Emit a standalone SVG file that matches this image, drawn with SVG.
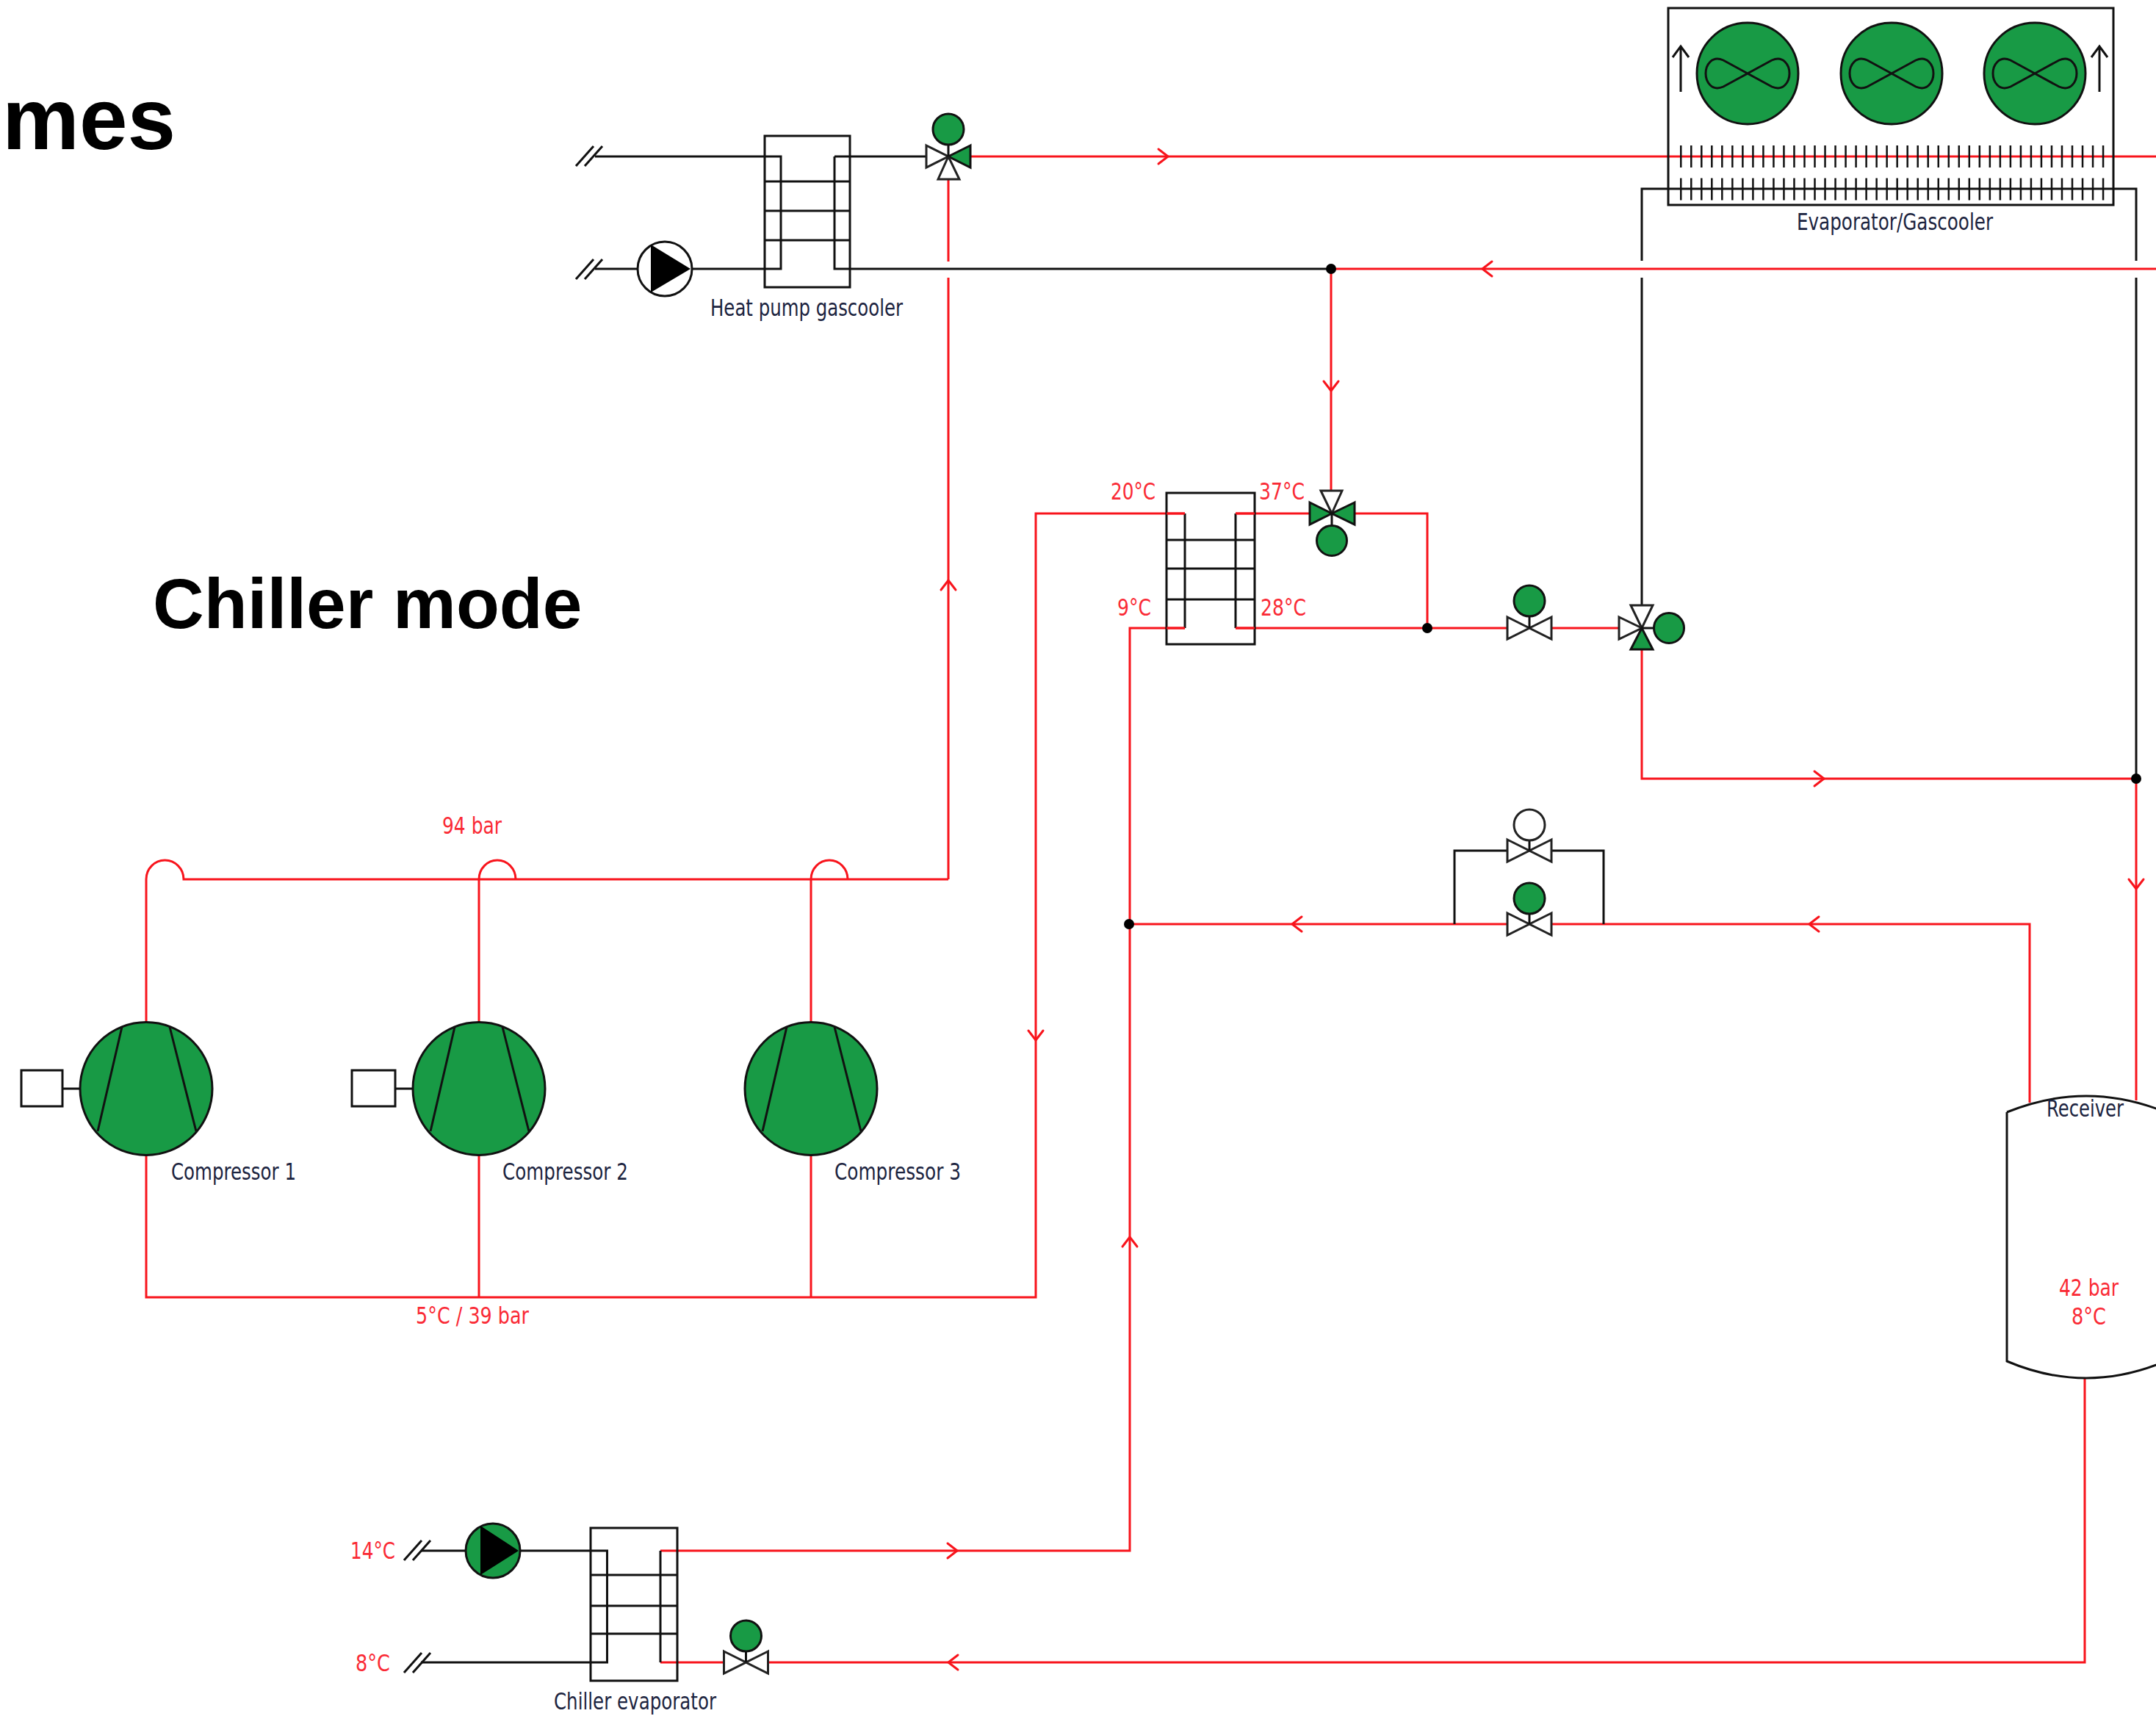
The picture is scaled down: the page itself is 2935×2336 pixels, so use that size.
<svg xmlns="http://www.w3.org/2000/svg" width="2935" height="2336" viewBox="0 0 2935 2336">
<style>
.r{fill:none;stroke:#f8141c;stroke-width:3}
.k{fill:none;stroke:#111;stroke-width:3}
.g{fill:#189a45;stroke:#111;stroke-width:3}
.w{fill:#fff;stroke:#222;stroke-width:3}
.t{font-family:"DejaVu Sans",sans-serif;font-size:32px;fill:#1c2440}
.tr{font-family:"DejaVu Sans",sans-serif;font-size:32px;fill:#fa2a35}
.h{font-family:"Liberation Sans",Arial,sans-serif;font-weight:700;fill:#000}
</style>
<defs>
<path id="chev" class="r" d="M-7,-10 L6,0 L-7,10" stroke-linecap="round" stroke-linejoin="round"/>
<path id="lobe" class="k" d="M0,0 L-33,-18 C-49,-25 -57,-11 -57,0 C-57,11 -49,25 -33,18 Z M0,0 L33,-18 C49,-25 57,-11 57,0 C57,11 49,25 33,18 Z"/>
<path id="slash" class="k" d="M-24,14 L0,-13 M-12,14 L12,-13"/>
<g id="valve2">
<polygon class="w" points="-30,-15 0,0 -30,15"/>
<polygon class="w" points="30,-15 0,0 30,15"/>
<path class="k" d="M0,0 V-17"/>
</g>
<g id="comp">
<ellipse class="g" cx="0" cy="0" rx="90" ry="90.5"/>
<path class="k" d="M-33,-84 L-66,58 M32,-84 L68,58"/>
</g>
</defs>

<g id="connectors">
<path class="r" d="M1321,213 H2935"/>
<path class="r" d="M1812,366 H2935"/>
<path class="r" d="M1812,366 V668"/>
<path class="r" d="M1291,244 V356 M1291,378 V1197"/>
<path class="r" d="M199,1391 V1197 A25.5,26 0 0 1 250,1197 H1291"/>
<path class="r" d="M652,1391 V1197 A25,26 0 0 1 702,1197"/>
<path class="r" d="M1104,1391 V1197 A25,26 0 0 1 1154,1197"/>
<path class="r" d="M199,1572 V1766 H1410 V699 H1613"/>
<path class="r" d="M652,1572 V1766 M1104,1572 V1766"/>
<path class="r" d="M1682,699 H1783 M1844,699 H1943 V855"/>
<path class="r" d="M1613,855 H1538 V2111 H899"/>
<path class="r" d="M1682,855 H2052 M2112,855 H2205"/>
<path class="r" d="M2235,884 V1060 H2908"/>
<path class="r" d="M2908,1060 V1498"/>
<path class="r" d="M2763,1501 V1258 H2112 M2052,1258 H1538"/>
<path class="r" d="M2838,1876 V2263 H1046 M985,2263 H899"/>
<path class="k" d="M810,213 H1063 V366 H942 M868,366 H810"/>
<path class="k" d="M1136,213 H1260 M1136,213 V366 H1812"/>
<path class="k" d="M2235,824 V378 M2235,355 V257 H2908 V355 M2908,378 V1060"/>
<path class="k" d="M1980,1258 V1158 H2052 M2112,1158 H2183 V1258"/>
<path class="k" d="M573,2111 H634 M708,2111 H826.5 V2263 H573"/>
<path class="k" d="M899,2111 V2263"/>
<use href="#chev" transform="translate(1584,213)"/>
<use href="#chev" transform="translate(2024,366) rotate(180)"/>
<use href="#chev" transform="translate(1812,526) rotate(90)"/>
<use href="#chev" transform="translate(1291,796) rotate(-90)"/>
<use href="#chev" transform="translate(1410,1410) rotate(90)"/>
<use href="#chev" transform="translate(1538,1690) rotate(-90)"/>
<use href="#chev" transform="translate(2477,1060)"/>
<use href="#chev" transform="translate(2908,1204) rotate(90)"/>
<use href="#chev" transform="translate(1765,1258) rotate(180)"/>
<use href="#chev" transform="translate(2469,1258) rotate(180)"/>
<use href="#chev" transform="translate(1297,2111)"/>
<use href="#chev" transform="translate(1297,2263) rotate(180)"/>
<circle cx="1812" cy="366" r="7" fill="#000"/>
<circle cx="1943" cy="855" r="7" fill="#000"/>
<circle cx="2908" cy="1060" r="7" fill="#000"/>
<circle cx="1537" cy="1258" r="7" fill="#000"/>
</g>

<g id="evaporator-gascooler">
<rect class="k" x="2271" y="11" width="606" height="268"/>
<ellipse class="g" cx="2379" cy="100" rx="69" ry="69"/><use href="#lobe" transform="translate(2379,100)"/>
<ellipse class="g" cx="2575" cy="100" rx="69" ry="69"/><use href="#lobe" transform="translate(2575,100)"/>
<ellipse class="g" cx="2770" cy="100" rx="69" ry="69"/><use href="#lobe" transform="translate(2770,100)"/>
<path class="k" d="M2288,125 V63 M2277,78 L2288,63 L2299,78 M2858,125 V63 M2847,78 L2858,63 L2869,78"/>
<path d="M2287,213 H2865 M2287,257.5 H2865" fill="none" stroke="#111" stroke-width="30" stroke-dasharray="2.5 11.52"/>
<text class="t" x="2446" y="313" textLength="267" lengthAdjust="spacingAndGlyphs">Evaporator/Gascooler</text>
</g>

<g id="heat-pump-gascooler">
<rect class="k" x="1041" y="185" width="116" height="206"/>
<path class="k" d="M1041,247 H1157 M1041,287 H1157 M1041,327 H1157"/>
<text class="t" x="967" y="430" textLength="262" lengthAdjust="spacingAndGlyphs">Heat pump gascooler</text>
</g>
<g id="hp-feed-top"><use href="#slash" transform="translate(808,212)"/></g>
<g id="hp-feed-bottom"><use href="#slash" transform="translate(808,366)"/></g>
<g id="hp-pump">
<circle cx="905" cy="366" r="37" fill="#fff" stroke="#111" stroke-width="3"/>
<polygon points="886,333 940,366 886,398" fill="#000"/>
</g>
<g id="valve-hp">
<polygon class="w" points="1261,198 1291,213 1261,228"/>
<polygon class="g" points="1321,198 1291,213 1321,228"/>
<polygon class="w" points="1277,244 1291,213 1306,244"/>
<path class="k" d="M1291,213 V196"/>
<circle class="g" cx="1291" cy="176" r="21"/>
</g>

<g id="recuperator">
<rect class="k" x="1588" y="671" width="120" height="206"/>
<path class="k" d="M1588,735 H1708 M1588,774 H1708 M1588,816 H1708"/>
<path class="k" d="M1613,699 V855 M1682,699 V855"/>
<path class="r" d="M1588,699 H1613 M1682,699 H1708 M1588,855 H1613 M1682,855 H1708"/>
<text class="tr" x="1512" y="680" textLength="61" lengthAdjust="spacingAndGlyphs">20°C</text>
<text class="tr" x="1714" y="680" textLength="62" lengthAdjust="spacingAndGlyphs">37°C</text>
<text class="tr" x="1521" y="838" textLength="46" lengthAdjust="spacingAndGlyphs">9°C</text>
<text class="tr" x="1716" y="838" textLength="62" lengthAdjust="spacingAndGlyphs">28°C</text>
</g>
<g id="valve-recuperator">
<polygon class="w" points="1798,668 1813,699 1827,668"/>
<polygon class="g" points="1783,684 1813,699 1783,714"/>
<polygon class="g" points="1844,684 1813,699 1844,714"/>
<path class="k" d="M1813,699 V716"/>
<ellipse class="g" cx="1813" cy="736" rx="20.5" ry="20.5"/>
</g>
<g id="valve-mid"><use href="#valve2" transform="translate(2082,855)"/><circle class="g" cx="2082" cy="818" r="21"/></g>
<g id="valve-evap-gas">
<polygon class="w" points="2220,824 2235,855 2250,824"/>
<polygon class="w" points="2204,840 2235,855 2204,870"/>
<polygon class="g" points="2220,884 2235,855 2250,884"/>
<path class="k" d="M2235,855 H2252"/>
<circle class="g" cx="2272" cy="855" r="20.5"/>
</g>
<g id="valve-bypass-top"><use href="#valve2" transform="translate(2082,1158)"/><circle class="w" cx="2082" cy="1123" r="21"/></g>
<g id="valve-bypass-bottom"><use href="#valve2" transform="translate(2082,1258)"/><circle class="g" cx="2082" cy="1223" r="21"/></g>

<g id="receiver">
<path class="k" d="M2732,1514 Q2840,1470 2948,1514 M2732,1514 V1853 Q2840,1899 2948,1853"/>
<text class="t" x="2786" y="1520" textLength="105" lengthAdjust="spacingAndGlyphs">Receiver</text>
<text class="tr" x="2803" y="1764" textLength="81" lengthAdjust="spacingAndGlyphs">42 bar</text>
<text class="tr" x="2820" y="1803" textLength="47" lengthAdjust="spacingAndGlyphs">8°C</text>
</g>

<g id="compressor-1">
<rect class="k" x="29" y="1457" width="56" height="49"/>
<path class="k" d="M85,1482 H109"/>
<use href="#comp" transform="translate(199,1482)"/>
<text class="t" x="233" y="1606" textLength="170" lengthAdjust="spacingAndGlyphs">Compressor 1</text>
</g>
<g id="compressor-2">
<rect class="k" x="479" y="1457" width="59" height="49"/>
<path class="k" d="M538,1482 H562"/>
<use href="#comp" transform="translate(652,1482)"/>
<text class="t" x="684" y="1606" textLength="171" lengthAdjust="spacingAndGlyphs">Compressor 2</text>
</g>
<g id="compressor-3">
<use href="#comp" transform="translate(1104,1482)"/>
<text class="t" x="1136" y="1606" textLength="172" lengthAdjust="spacingAndGlyphs">Compressor 3</text>
</g>

<g id="chiller-evaporator">
<rect class="k" x="804" y="2080" width="118" height="208"/>
<path class="k" d="M804,2144 H922 M804,2186 H922 M804,2224 H922"/>
<text class="t" x="754" y="2327" textLength="221" lengthAdjust="spacingAndGlyphs">Chiller evaporator</text>
</g>
<g id="chiller-feed-top"><use href="#slash" transform="translate(574,2110)"/></g>
<g id="chiller-feed-bottom"><use href="#slash" transform="translate(574,2263)"/></g>
<g id="chiller-pump">
<circle class="g" cx="671" cy="2111" r="37"/>
<polygon points="654,2077 706,2111 654,2144" fill="#000"/>
</g>
<g id="valve-chiller"><use href="#valve2" transform="translate(1015.5,2263)"/><circle class="g" cx="1015.5" cy="2227" r="21"/></g>

<g id="labels">
<text class="tr" x="602" y="1135" textLength="81" lengthAdjust="spacingAndGlyphs">94 bar</text>
<text class="tr" x="566" y="1802" textLength="154" lengthAdjust="spacingAndGlyphs">5°C / 39 bar</text>
<text class="tr" x="477" y="2122" textLength="61" lengthAdjust="spacingAndGlyphs">14°C</text>
<text class="tr" x="484" y="2275" textLength="47" lengthAdjust="spacingAndGlyphs">8°C</text>
<text class="h" x="3" y="203" font-size="118">mes</text>
<text class="h" x="208" y="855" font-size="96.5">Chiller mode</text>
</g>
</svg>
